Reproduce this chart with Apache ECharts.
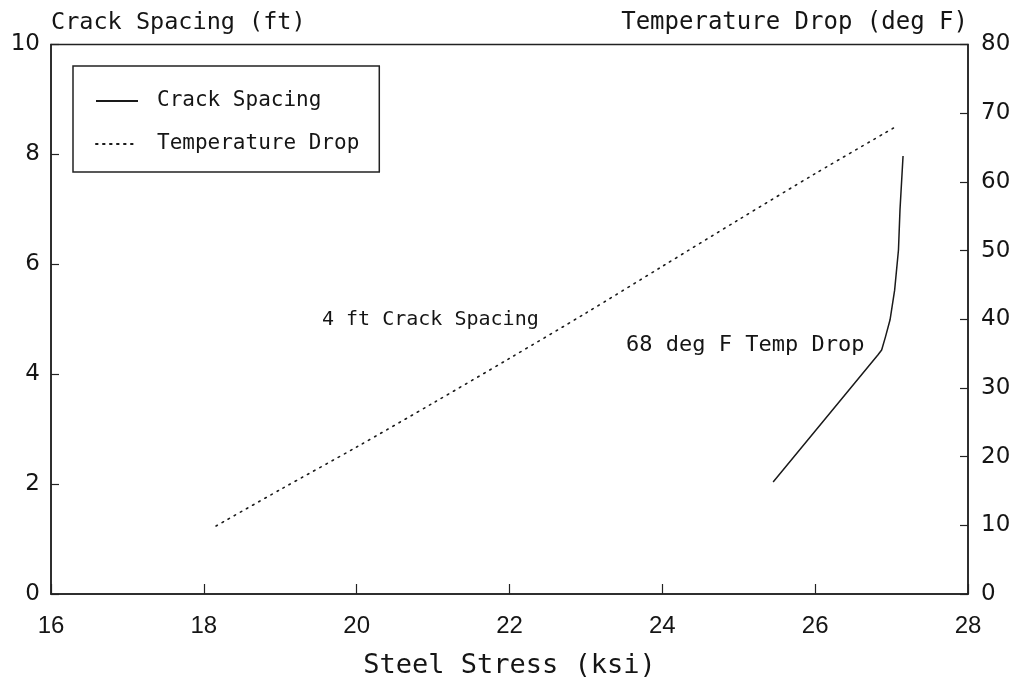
<!DOCTYPE html>
<html>
<head>
<meta charset="utf-8">
<script src="https://cdn.jsdelivr.net/npm/echarts@6/dist/echarts.min.js"></script>
<style>html,body{margin:0;padding:0;background:#fff;}#c{width:1021px;height:690px;}</style>
</head>
<body>
<div id="c"></div>
<script>
// Steel stress (ksi) vs crack spacing (ft)
const crackStress = [25.45, 26.82, 26.87, 26.92, 26.98, 27.04, 27.09, 27.11, 27.15];
const crackSpacing = [2.04, 4.35, 4.44, 4.68, 4.99, 5.53, 6.26, 6.99, 7.97];
// Steel stress (ksi) vs temperature drop (deg F)
const tempStress = [18.16, 19.0, 20.0, 21.0, 22.0, 23.0, 24.0, 25.0, 26.0, 27.05];
const tempDrop = [9.9, 15.2, 21.4, 27.8, 34.3, 40.9, 47.7, 54.5, 61.2, 68.0];
const xTicks = [16, 18, 20, 22, 24, 26, 28];
const leftTicks = [0, 2, 4, 6, 8, 10];
const rightTicks = [0, 10, 20, 30, 40, 50, 60, 70, 80];
const notes = ['4 ft Crack Spacing', '68 deg F Temp Drop'];

const ink = '#151515';
const mono = '"DejaVu Sans Mono", "Liberation Mono", monospace';
const chart = echarts.init(document.getElementById('c'));
chart.setOption({
  backgroundColor: '#fff',
  animation: false,
  grid: { left: 51, right: 53, top: 44.5, bottom: 96, show: true, borderColor: '#222', borderWidth: 1.5 },
  legend: {
    left: 73, top: 66, orient: 'vertical',
    backgroundColor: '#fff', borderColor: '#222', borderWidth: 1.5,
    padding: [24, 20, 17, 22], itemGap: 21, itemWidth: 42, itemHeight: 14,
    itemStyle: { opacity: 0, color: 'rgba(0,0,0,0)', borderWidth: 0 },
    textStyle: { fontFamily: mono, fontSize: 21, lineHeight: 22, color: ink, padding: [0, 0, 0, 14] },
    data: ['Crack Spacing', 'Temperature Drop']
  },
  xAxis: {
    type: 'value', min: xTicks[0], max: xTicks[xTicks.length - 1], interval: 2,
    name: 'Steel Stress (ksi)', nameLocation: 'middle', nameGap: 58,
    nameTextStyle: { fontFamily: mono, fontSize: 27, color: ink },
    axisLine: { show: true, lineStyle: { color: '#222', width: 1.5 } },
    axisTick: { show: true, inside: true, length: 10, lineStyle: { color: '#222', width: 1.2 } },
    axisLabel: { margin: 20, fontFamily: 'Liberation Sans', fontSize: 24, color: ink },
    splitLine: { show: false }
  },
  yAxis: [{
    type: 'value', min: leftTicks[0], max: leftTicks[leftTicks.length - 1], interval: 2,
    name: 'Crack Spacing (ft)', nameLocation: 'end', nameGap: 22,
    nameTextStyle: { fontFamily: mono, fontSize: 23.5, color: ink, align: 'left', verticalAlign: 'middle' },
    axisLine: { show: true, lineStyle: { color: '#222', width: 1.5 } },
    axisTick: { show: true, inside: true, length: 8, lineStyle: { color: '#222', width: 1.2 } },
    axisLabel: { margin: 11, fontFamily: 'DejaVu Sans', fontSize: 23, color: ink },
    splitLine: { show: false }
  }, {
    type: 'value', position: 'right', min: rightTicks[0], max: rightTicks[rightTicks.length - 1], interval: 10,
    name: 'Temperature Drop (deg F)', nameLocation: 'end', nameGap: 22,
    nameTextStyle: { fontFamily: mono, fontSize: 24, color: ink, align: 'right', verticalAlign: 'middle' },
    axisLine: { show: true, lineStyle: { color: '#222', width: 1.5 } },
    axisTick: { show: true, inside: true, length: 8, lineStyle: { color: '#222', width: 1.2 } },
    axisLabel: { margin: 13, fontFamily: 'DejaVu Sans', fontSize: 23, color: ink },
    splitLine: { show: false }
  }],
  graphic: [
    { type: 'text', x: 322, y: 320, style: { text: notes[0], font: '20px ' + mono, fill: ink, verticalAlign: 'middle' } },
    { type: 'text', x: 626, y: 345, style: { text: notes[1], font: '22px ' + mono, fill: ink, verticalAlign: 'middle' } }
  ],
  series: [{
    name: 'Crack Spacing', type: 'line', yAxisIndex: 0, symbol: 'none', smooth: false,
    lineStyle: { color: '#1a1a1a', width: 1.5 },
    data: crackStress.map((x, i) => [x, crackSpacing[i]])
  }, {
    name: 'Temperature Drop', type: 'line', yAxisIndex: 1, symbol: 'none', smooth: 0.3,
    lineStyle: { color: '#1a1a1a', width: 1.6, type: [1.6, 5.4], cap: 'round' },
    data: tempStress.map((x, i) => [x, tempDrop[i]])
  }]
});
</script>
</body>
</html>
